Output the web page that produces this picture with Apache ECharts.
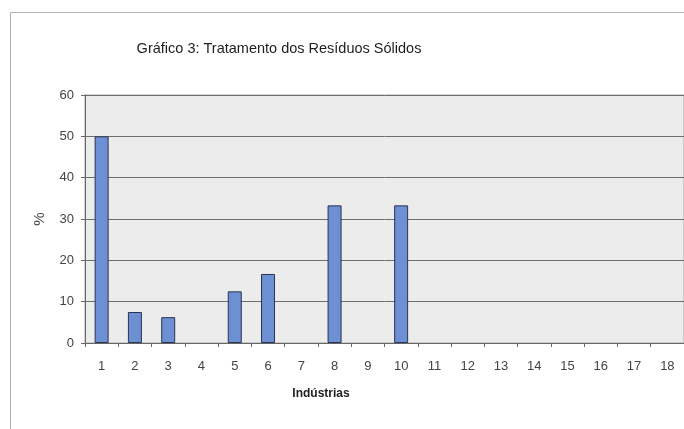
<!DOCTYPE html>
<html>
<head>
<meta charset="utf-8">
<script src="https://cdn.jsdelivr.net/npm/echarts@6/dist/echarts.min.js"></script>
<style>
  html, body { margin: 0; padding: 0; background: #fff; }
  #chart { width: 684px; height: 429px; }
</style>
</head>
<body>
<div id="chart"></div>
<script>
const industrias = ['1', '2', '3', '4', '5', '6', '7', '8', '9', '10', '11', '12', '13', '14', '15', '16', '17', '18'];
const percentual = [50, 7.5, 6.25, 0, 12.5, 16.7, 0, 33.3, 0, 33.3, 0, 0, 0, 0, 0, 0, 0, 0];

const chart = echarts.init(document.getElementById('chart'), null, { renderer: 'canvas' });

const font = 'Liberation Sans, Arial, sans-serif';

// zero-height bars get no outline, the original shows nothing there
const barData = percentual.map((v) => (v === 0 ? { value: v, itemStyle: { borderWidth: 0 } } : v));

chart.setOption({
  animation: false,
  backgroundColor: '#ffffff',
  title: {
    text: 'Gráfico 3: Tratamento dos Resíduos Sólidos',
    left: 274,
    top: 36,
    textAlign: 'center',
    textStyle: { fontFamily: font, fontSize: 14.5, fontWeight: 'normal', color: '#1e1e1e' }
  },
  graphic: [
    {
      type: 'rect',
      shape: { x: 10.5, y: 12.5, width: 700, height: 440 },
      style: { fill: 'none', stroke: '#b0b0b0', lineWidth: 1 },
      z: -1
    },
    {
      type: 'text',
      x: 321,
      y: 388,
      style: {
        text: 'Indústrias',
        fontFamily: font,
        fontSize: 12,
        fontWeight: 'bold',
        fill: '#222',
        textAlign: 'center'
      }
    }
  ],
  grid: {
    left: 85,
    top: 95,
    right: 0,
    bottom: 86,
    show: true,
    backgroundColor: '#ececec',
    borderColor: '#a8a8a8',
    borderWidth: 1
  },
  xAxis: {
    type: 'category',
    data: industrias,
    axisLine: { lineStyle: { color: '#666', width: 1 } },
    axisTick: { show: true, length: 4, lineStyle: { color: '#666' } },
    axisLabel: { fontFamily: font, fontSize: 13, color: '#444', margin: 17 }
  },
  yAxis: {
    type: 'value',
    min: 0,
    max: 60,
    interval: 10,
    name: '%',
    nameLocation: 'middle',
    nameGap: 38,
    nameRotate: 90,
    nameTextStyle: { fontFamily: font, fontSize: 15, color: '#444' },
    axisLine: { show: true, lineStyle: { color: '#666', width: 1 } },
    axisTick: { show: true, length: 4, lineStyle: { color: '#666' } },
    axisLabel: { fontFamily: font, fontSize: 13, color: '#444', margin: 11 },
    splitLine: { show: true, lineStyle: { color: '#6e6e6e', width: 1 } }
  },
  series: [
    {
      type: 'bar',
      data: barData,
      barWidth: 14,
      itemStyle: {
        color: '#6d8fd3',
        borderColor: '#2b3450',
        borderWidth: 1
      }
    }
  ]
});
</script>
</body>
</html>
